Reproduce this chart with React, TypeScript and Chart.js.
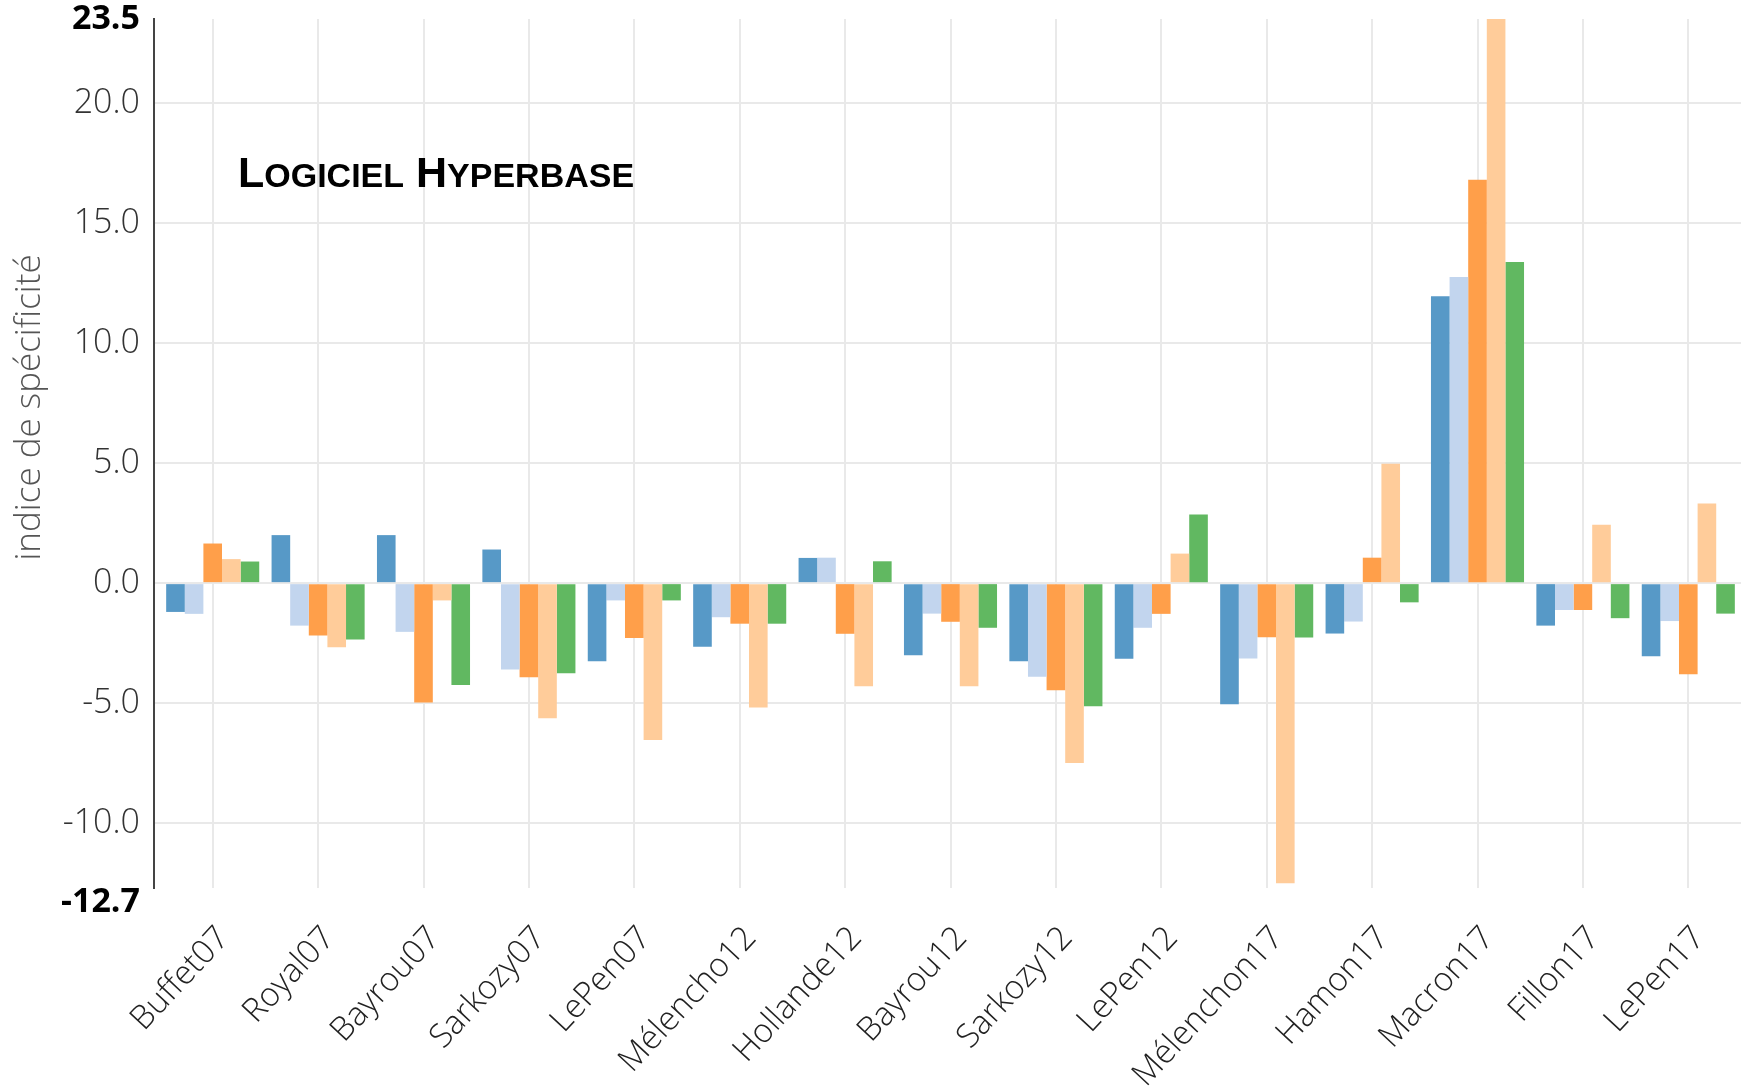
import { useEffect, useRef } from 'react';
import { Chart, registerables } from 'chart.js';

Chart.register(...registerables);

const categories = [
  'Buffet07', 'Royal07', 'Bayrou07', 'Sarkozy07', 'LePen07',
  'Mélencho12', 'Hollande12', 'Bayrou12', 'Sarkozy12', 'LePen12',
  'Mélenchon17', 'Hamon17', 'Macron17', 'Fillon17', 'LePen17',
];

const seriesNames = ['Série 1', 'Série 2', 'Série 3', 'Série 4', 'Série 5'];

const serie1 = [-1.2, 2.0, 2.0, 1.4, -3.25, -2.65, 1.05, -3.0, -3.25, -3.15, -5.05, -2.1, 11.95, -1.77, -3.05];
const serie2 = [-1.28, -1.77, -2.03, -3.6, -0.72, -1.42, 1.06, -1.27, -3.9, -1.86, -3.14, -1.6, 12.75, -1.12, -1.58];
const serie3 = [1.65, -2.18, -4.97, -3.92, -2.29, -1.69, -2.11, -1.61, -4.46, -1.28, -2.25, 1.06, 16.8, -1.12, -3.8];
const serie4 = [1.0, -2.67, -0.72, -5.63, -6.53, -5.18, -4.3, -4.3, -7.49, 1.23, -12.5, 4.97, 23.5, 2.43, 3.32];
const serie5 = [0.9, -2.35, -4.24, -3.75, -0.72, -1.69, 0.91, -1.86, -5.13, 2.86, -2.26, -0.8, 13.38, -1.46, -1.27];

const seriesColors = ['#5799C7', '#C2D5EE', '#FF9F4A', '#FFCC9A', '#61B861'];

const yMin = -12.7;
const yMax = 23.5;
const yTicks = [-12.7, -10, -5, 0, 5, 10, 15, 20, 23.5];
const yTitle = 'indice de spécificité';
const annotationParts: [string, boolean][] = [
  ['L', true], ['OGICIEL', false], [' ', true], ['H', true], ['YPERBASE', false],
];

const FONT = '"Open Sans", "DejaVu Sans", sans-serif';

const shiftPlugin = {
  id: 'shiftX',
  afterLayout(chart: any) {
    const x = chart.scales.x;
    x.left = chart.chartArea.left + 6;
    x.configure();
  },
};

const textPlugin = {
  id: 'texts',
  afterDraw(chart: any) {
    const { ctx, chartArea } = chart;
    ctx.save();
    ctx.translate(30, chartArea.top + (chartArea.bottom - chartArea.top) * 0.447);
    ctx.rotate(-Math.PI / 2);
    ctx.font = `300 35px ${FONT}`;
    ctx.fillStyle = '#555';
    ctx.textAlign = 'center';
    ctx.textBaseline = 'middle';
    ctx.fillText(yTitle, 0, 0);
    ctx.restore();

    ctx.save();
    ctx.fillStyle = '#000';
    ctx.textAlign = 'left';
    ctx.textBaseline = 'alphabetic';
    let x = chartArea.left + 84;
    const y = chartArea.top + 168;
    for (const [txt, big] of annotationParts) {
      ctx.font = `bold ${big ? 43 : 34}px "Liberation Sans", Arial, sans-serif`;
      ctx.fillText(txt, x, y);
      x += ctx.measureText(txt).width;
    }
    ctx.restore();
  },
};

export default function App() {
  const ref = useRef<HTMLCanvasElement | null>(null);

  useEffect(() => {
    if (!ref.current) return;
    const all = [serie1, serie2, serie3, serie4, serie5];
    const chart = new Chart(ref.current, {
      type: 'bar',
      data: {
        labels: categories,
        datasets: all.map((d, i) => ({
          label: seriesNames[i],
          data: d,
          backgroundColor: seriesColors[i],
          borderWidth: 0,
          categoryPercentage: 0.883,
          barPercentage: 1.0,
        })),
      },
      options: {
        animation: false,
        responsive: true,
        maintainAspectRatio: false,
        layout: { padding: { top: 19, right: 13, left: 0, bottom: 0 } },
        plugins: {
          legend: { display: false },
          tooltip: { enabled: false },
          title: { display: false },
        },
        scales: {
          x: {
            grid: {
              offset: false,
              color: '#e9e9e9',
              lineWidth: 2,
              drawTicks: false,
            },
            border: { display: false },
            ticks: {
              minRotation: 47,
              maxRotation: 47,
              padding: 31,
              labelOffset: 11,
              color: '#222',
              font: { family: FONT, size: 33, weight: '300' as any },
              autoSkip: false,
            },
            afterFit(scale: any) {
              scale.height = 1092 - 888;
            },
          },
          y: {
            min: yMin,
            max: yMax,
            afterBuildTicks(scale: any) {
              scale.ticks = yTicks.map((v) => ({ value: v }));
            },
            afterFit(scale: any) {
              scale.width = 154;
              scale.paddingTop = 0;
              scale.paddingBottom = 0;
            },
            grid: {
              color: (ctx: any) => {
                const v = ctx.tick ? ctx.tick.value : null;
                return v === yMin || v === yMax ? 'rgba(0,0,0,0)' : '#e9e9e9';
              },
              lineWidth: 2,
              drawTicks: false,
            },
            border: { display: true, color: '#444', width: 2 },
            ticks: {
              padding: 14,
              color: (ctx: any) => {
                const v = ctx.tick ? ctx.tick.value : null;
                return v === yMin || v === yMax ? '#000' : '#333';
              },
              font: (ctx: any) => {
                const v = ctx.tick ? ctx.tick.value : null;
                const bound = v === yMin || v === yMax;
                return {
                  family: FONT,
                  size: 34,
                  lineHeight: v === yMin ? 0.85 : 1,
                  weight: (bound ? 'bold' : '300') as any,
                };
              },
              callback: (v: any) => {
                const s = Number(v).toFixed(1);
                return Number(v) === yMin ? ['', s] : s;
              },
            },
          },
        },
      },
      plugins: [shiftPlugin, textPlugin],
    });
    return () => chart.destroy();
  }, []);

  return (
    <div style={{ position: 'fixed', left: 0, top: 0, width: 1754, height: 1092, background: '#fff' }}>
      <canvas ref={ref} />
    </div>
  );
}
